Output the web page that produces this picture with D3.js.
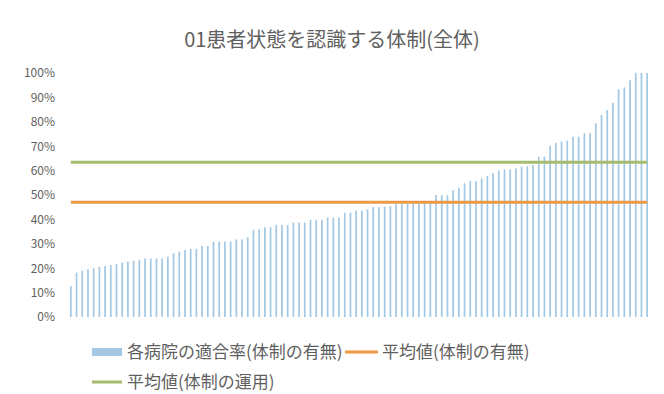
<!DOCTYPE html>
<html>
<head>
<meta charset="utf-8">
<script src="https://cdn.jsdelivr.net/npm/d3@7/dist/d3.min.js"></script>
<style>
  html, body { margin: 0; padding: 0; background: #fff; }
  svg { display: block; }
  text { font-family: "Noto Sans CJK JP", "Noto Sans", sans-serif; fill: #5f5f5f; }
</style>
</head>
<body>
<svg id="chart" width="664" height="394"></svg>
<script>
const title = "01患者状態を認識する体制(全体)";
const hospitals = d3.range(1, 103).map(i => "H" + i);
const rates = [
  12.6, 18.2, 19, 19.5, 20, 20.6, 20.9, 21.3, 21.7, 22.3,
  22.7, 23.1, 23.4, 24, 24, 24, 24, 24.7, 26.1, 26.8,
  27.5, 27.9, 27.9, 29.1, 29.1, 30.9, 30.9, 30.9, 30.9, 31.8,
  31.8, 32.7, 35.7, 35.9, 36.8, 36.8, 37.7, 37.7, 37.7, 38.7,
  38.7, 38.7, 39.8, 39.8, 39.8, 40.7, 40.7, 40.7, 42.7, 42.7,
  43.6, 43.6, 44.1, 45, 45, 45.2, 45.5, 46.3, 46.3, 46.3,
  46.6, 46.6, 46.6, 46.6, 50, 50, 50, 52, 53, 54.8,
  55.7, 55.7, 56.8, 57.8, 58.9, 60, 60.5, 60.5, 60.9, 61.6,
  61.8, 62.3, 65.7, 65.7, 70.1, 71.4, 71.9, 72.3, 73.9, 73.9,
  75.3, 75.3, 79.4, 82.8, 84.8, 87.8, 93.3, 94.1, 97.1, 100,
  100, 100
];
const avgPresence = 47.0;   // 平均値(体制の有無)
const avgOperation = 63.4;  // 平均値(体制の運用)
const yTicks = [0, 10, 20, 30, 40, 50, 60, 70, 80, 90, 100];
const legendLabels = ["各病院の適合率(体制の有無)", "平均値(体制の有無)", "平均値(体制の運用)"];

const colors = { bar: "#a2c8e4", orange: "#ec9a45", green: "#a6bb6e" };

const svg = d3.select("#chart");
const plot = { left: 68, right: 650, top: 73, bottom: 317 };

const x = d3.scaleBand().domain(hospitals).range([plot.left, plot.right]).paddingInner(0.7).paddingOuter(0.35);
const y = d3.scaleLinear().domain([0, 100]).range([plot.bottom, plot.top]);

// Title
svg.append("text")
  .attr("x", 332).attr("y", 47)
  .attr("text-anchor", "middle")
  .attr("font-size", 20)
  .text(title);

// Y axis
const yAxis = d3.axisLeft(y).tickValues(yTicks).tickFormat(d => d + "%").tickSize(0).tickPadding(0);
const gy = svg.append("g").attr("transform", `translate(55,0)`).call(yAxis);
gy.select(".domain").remove();
gy.selectAll("text").attr("font-size", 12).style("fill", "#5f5f5f")
  .attr("font-family", "'Noto Sans', sans-serif");

// Bars
svg.append("g").selectAll("rect").data(rates).join("rect")
  .attr("x", (d, i) => x(hospitals[i]))
  .attr("width", x.bandwidth())
  .attr("y", d => y(d))
  .attr("height", d => y(0) - y(d))
  .attr("fill", colors.bar);

// Average lines
const cx = h => x(h) + x.bandwidth() / 2;
const line = d3.line().x(d => cx(d[0])).y(d => y(d[1]));
svg.append("path")
  .attr("d", line(hospitals.map(h => [h, avgPresence])))
  .attr("stroke", colors.orange).attr("stroke-width", 3).attr("fill", "none");
svg.append("path")
  .attr("d", line(hospitals.map(h => [h, avgOperation])))
  .attr("stroke", colors.green).attr("stroke-width", 3).attr("fill", "none");

// Legend
const lg = svg.append("g");
lg.append("rect").attr("x", 92).attr("y", 348).attr("width", 30).attr("height", 8).attr("fill", colors.bar);
lg.append("text").attr("x", 127).attr("y", 358).attr("font-size", 17).text(legendLabels[0]);
lg.append("line").attr("x1", 345).attr("x2", 378).attr("y1", 352).attr("y2", 352)
  .attr("stroke", colors.orange).attr("stroke-width", 3);
lg.append("text").attr("x", 382).attr("y", 358).attr("font-size", 17).text(legendLabels[1]);
lg.append("line").attr("x1", 92).attr("x2", 122).attr("y1", 382).attr("y2", 382)
  .attr("stroke", colors.green).attr("stroke-width", 3);
lg.append("text").attr("x", 127).attr("y", 388).attr("font-size", 17).text(legendLabels[2]);
</script>
</body>
</html>
